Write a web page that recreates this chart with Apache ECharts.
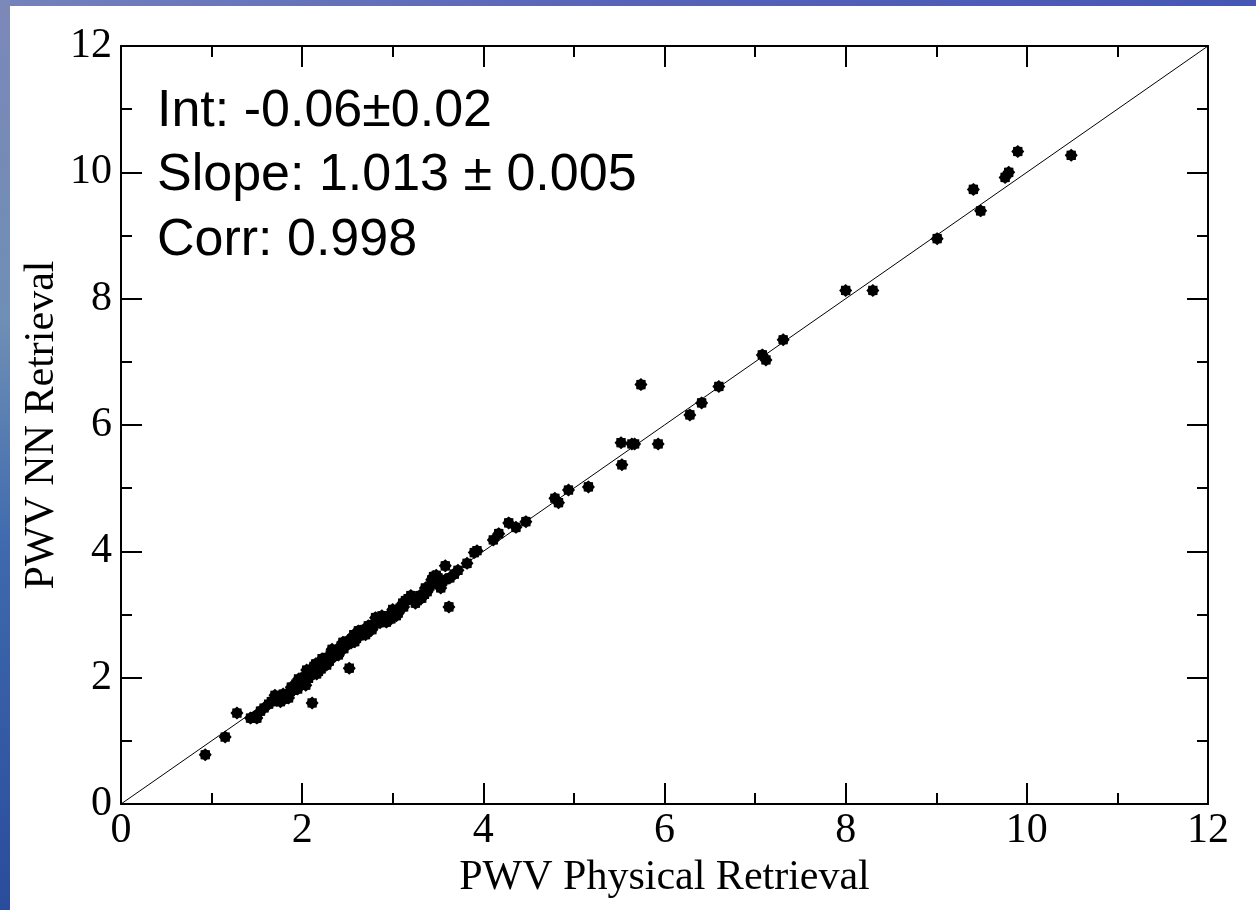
<!DOCTYPE html>
<html>
<head>
<meta charset="utf-8">
<script src="https://cdn.jsdelivr.net/npm/echarts@6/dist/echarts.min.js"></script>
<style>html,body{margin:0;padding:0;background:#fff;}#c{width:1256px;height:910px;}</style>
</head>
<body>
<div id="c"></div>
<script>
const physX = [0.93,1.15,1.28,1.43,1.47,1.50,1.54,1.58,1.63,1.66,1.70,1.72,1.76,1.79,1.80,1.82,1.85,1.87,1.88,1.90,1.93,1.95,1.96,1.98,2.00,2.02,2.02,2.04,2.05,2.06,2.07,2.09,2.11,2.12,2.13,2.15,2.16,2.18,2.20,2.21,2.22,2.24,2.26,2.27,2.28,2.30,2.31,2.33,2.34,2.36,2.38,2.40,2.41,2.43,2.45,2.46,2.48,2.50,2.52,2.54,2.55,2.57,2.58,2.60,2.62,2.63,2.66,2.68,2.70,2.72,2.73,2.75,2.77,2.79,2.81,2.84,2.86,2.88,2.90,2.92,2.93,2.95,2.98,3.00,3.01,3.04,3.06,3.08,3.11,3.12,3.14,3.17,3.20,3.22,3.25,3.27,3.30,3.32,3.35,3.36,3.38,3.41,3.43,3.45,3.47,3.48,3.50,3.53,3.55,3.58,3.58,3.62,3.63,3.68,3.72,3.82,3.90,3.93,4.11,4.17,4.28,4.36,4.47,4.79,4.83,4.94,5.16,5.52,5.53,5.64,5.67,5.74,5.93,6.28,6.41,6.60,7.08,7.12,7.31,8.00,8.30,9.01,9.41,9.49,9.76,9.80,9.90,10.49];
const nnY = [0.78,1.06,1.44,1.36,1.38,1.36,1.47,1.52,1.58,1.62,1.72,1.64,1.62,1.74,1.66,1.70,1.68,1.78,1.85,1.80,1.90,1.82,1.98,1.93,1.97,2.01,1.93,1.88,2.12,2.08,1.99,2.04,1.60,2.14,2.18,2.22,2.06,2.10,2.24,2.14,2.30,2.20,2.28,2.20,2.32,2.26,2.36,2.45,2.40,2.34,2.44,2.36,2.40,2.50,2.56,2.46,2.52,2.58,2.15,2.55,2.62,2.68,2.57,2.62,2.74,2.66,2.70,2.76,2.68,2.72,2.82,2.80,2.76,2.84,2.95,2.88,2.87,2.98,2.92,2.95,2.88,2.98,2.93,3.08,3.02,2.98,3.02,3.10,3.18,3.12,3.22,3.25,3.30,3.24,3.18,3.22,3.30,3.26,3.32,3.42,3.36,3.45,3.55,3.60,3.50,3.62,3.58,3.42,3.52,3.77,3.55,3.12,3.58,3.64,3.70,3.81,3.98,4.01,4.18,4.28,4.45,4.38,4.47,4.84,4.77,4.97,5.02,5.72,5.37,5.70,5.70,6.64,5.70,6.16,6.35,6.61,7.11,7.03,7.35,8.13,8.13,8.95,9.73,9.39,9.92,10.00,10.33,10.27];
const fitLine = [[0,0],[12,12]];
const axisMin = 0, axisMax = 12, axisStep = 2;
const xTitle = 'PWV Physical Retrieval';
const yTitle = 'PWV NN Retrieval';
const statLines = ['Int: -0.06\u00b10.02','Slope: 1.013 \u00b1 0.005','Corr: 0.998'];

const points = physX.map((x,i)=>[x,nnY[i]]);
const star = 'path://M100,50L86.96,65.31L85.36,85.36L65.31,86.96L50,100L34.69,86.96L14.64,85.36L13.04,65.31L0,50L13.04,34.69L14.64,14.64L34.69,13.04L50,0L65.31,13.04L85.36,14.64L86.96,34.69Z';

const serif = '"Liberation Serif", "DejaVu Serif", serif';
function axisBase(show){
  return {
    type:'value', min:axisMin, max:axisMax, interval:axisStep,
    axisLine:{show:true, onZero:false, lineStyle:{color:'#000', width:2}},
    axisTick:{show:true, inside:true, length:21, lineStyle:{color:'#000', width:2}},
    minorTick:{show:true, splitNumber:2, length:11, lineStyle:{color:'#000', width:2}},
    splitLine:{show:false},
    axisLabel:{show:show, color:'#000', fontFamily:serif, fontSize:42},
  };
}
const chart = echarts.init(document.getElementById('c'), null, {renderer:'canvas'});
const xb = axisBase(true), xt = axisBase(false), yl = axisBase(true), yr = axisBase(false);
xb.position='bottom'; xb.axisLabel.margin=6;
xb.name = xTitle; xb.nameLocation='middle'; xb.nameGap=53; xb.nameMoveOverlap=false;
xb.nameTextStyle={color:'#000', fontFamily:serif, fontSize:42};
xt.position='top';
yl.position='left'; yl.axisLabel.margin=9;
yl.name = yTitle; yl.nameLocation='middle'; yl.nameGap=58; yl.nameMoveOverlap=false;
yl.nameTextStyle={color:'#000', fontFamily:serif, fontSize:42};
yr.position='right';

const graphics = [
  {type:'rect', shape:{x:0,y:0,width:1256,height:6}, z:100,
   style:{fill:new echarts.graphic.LinearGradient(0,0,1,0,[{offset:0,color:'#7482bd'},{offset:0.5,color:'#5663b8'},{offset:1,color:'#4656b5'}])}},
  {type:'rect', shape:{x:0,y:0,width:10,height:910}, z:100,
   style:{fill:new echarts.graphic.LinearGradient(0,0,0,1,[{offset:0,color:'#7c88b8'},{offset:0.35,color:'#6f8fb5'},{offset:0.6,color:'#3f6aae'},{offset:1,color:'#2a4c9c'}])}}
];
const lineY = [112,176,241];
statLines.forEach((t,i)=>{
  graphics.push({type:'text', x:157, y:lineY[i], z:50,
    style:{text:t, fill:'#000', font:'52px "Liberation Sans", Arial, sans-serif', verticalAlign:'middle', align:'left'}});
});

chart.setOption({
  backgroundColor:'#fff',
  animation:false,
  grid:{left:121, top:46, width:1087, height:758, containLabel:false, outerBoundsMode:'none'},
  xAxis:[xb, xt],
  yAxis:[yl, yr],
  series:[
    {type:'line', data:fitLine, symbol:'none', lineStyle:{color:'#000', width:1}, xAxisIndex:0, yAxisIndex:0, silent:true, z:1},
    {type:'scatter', data:points, symbol:star, symbolSize:13, itemStyle:{color:'#000', opacity:1}, xAxisIndex:0, yAxisIndex:0, z:2}
  ],
  graphic:graphics
});
</script>
</body>
</html>
